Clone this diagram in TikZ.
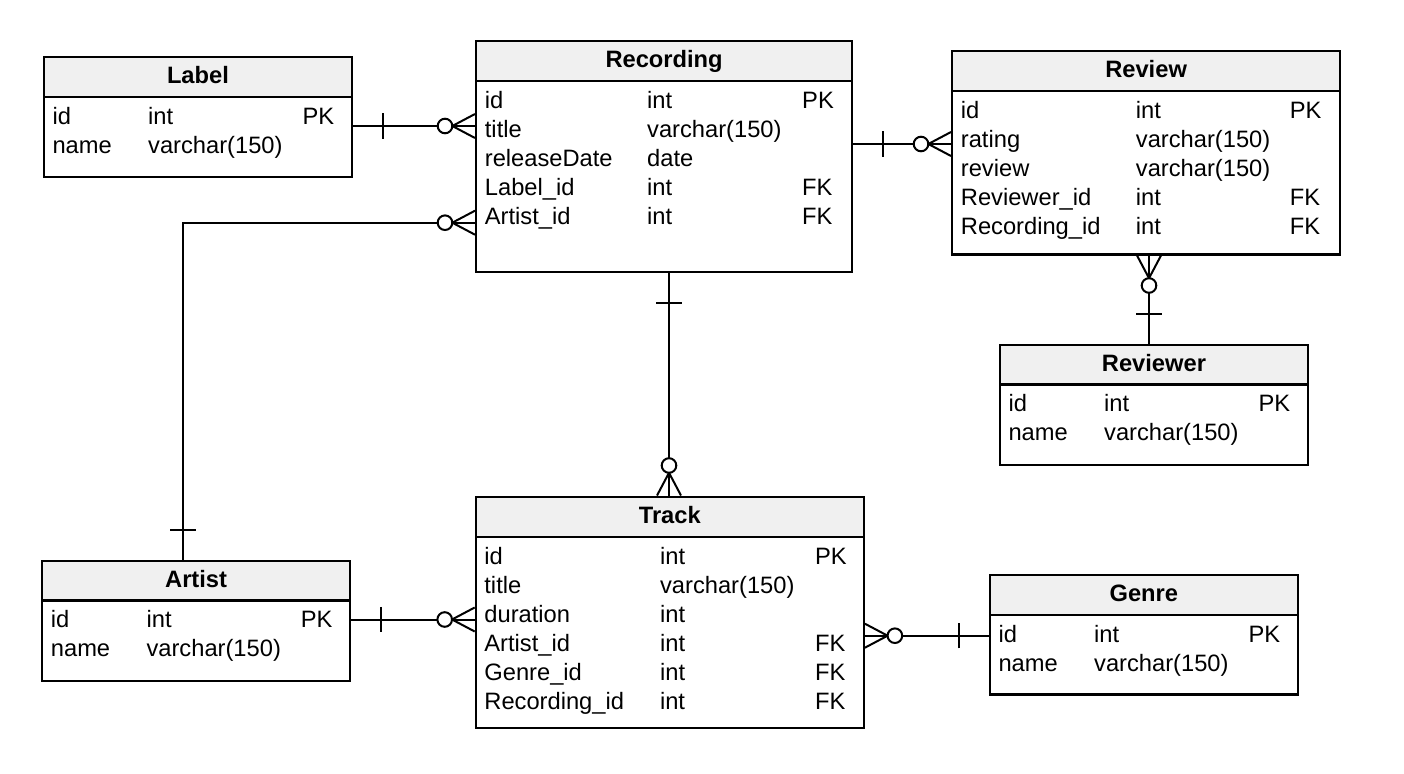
\documentclass[tikz,border=0pt]{standalone}
\usepackage{fontspec}
\setmainfont{Liberation Sans}
\usepackage{array}
\definecolor{hdrgray}{HTML}{F0F0F0}
\newcommand\erentity[7]{%
  \node[erbox, minimum width={#5-#3}, minimum height={#6-#4}] (#1) at (#3,#4) {};
  \node[erhdr, minimum width={#5-#3}, minimum height={#7-#4}] (#1-h) at (#3,#4) {#2};
}
\begin{document}
\begin{tikzpicture}[x=1pt,y=-1pt,
  every node/.style={font=\fontsize{23.7}{28.9}\selectfont},
  erbox/.style={draw, line width=2.2pt, inner sep=0pt, anchor=north west},
  erhdr/.style={draw, line width=2.2pt, fill=hdrgray, inner sep=0pt, anchor=north west,
                font=\fontsize{23.7}{28.9}\selectfont\bfseries, text height=17pt, text depth=4pt},
  errows/.style={inner sep=0pt, anchor=base west},
  conn/.style={line width=2pt},
  tickmark/.pic={\draw[conn] (30,-12.7) -- (30,12.7);},
  crowmark/.pic={\draw[conn] (0,-12) -- (22.7,0) -- (0,12);
                 \draw[conn, fill=white] (30,0) circle[radius=7.3];}
]
\useasboundingbox (0,0) rectangle (1404,773);

% entities
\erentity{label}{Label}{42.7}{55.7}{351}{175.7}{95.7}
\erentity{rec}{Recording}{475}{40}{851}{271}{80}
\erentity{rev}{Review}{951}{50}{1339}{253.3}{90}
\erentity{revr}{Reviewer}{998.7}{343.5}{1307}{463.7}{383.3}
\erentity{artist}{Artist}{41}{560}{349}{680}{599.3}
\erentity{track}{Track}{474.7}{495.5}{862.7}{727}{536}
\erentity{genre}{Genre}{988.7}{574}{1296.7}{693.3}{614}

% rows
\node[errows] (label-b) at (52.3,124.2) {\begin{tabular}[t]{@{}p{95.7pt}@{}p{154.3pt}@{}l@{}}
id & int & PK\\ name & varchar(150) & \end{tabular}};
\node[errows] (rec-b) at (484.7,108.5) {\begin{tabular}[t]{@{}p{162.3pt}@{}p{155pt}@{}l@{}}
id & int & PK\\ title & varchar(150) & \\ releaseDate & date & \\ Label\_id & int & FK\\ Artist\_id & int & FK\end{tabular}};
\node[errows] (rev-b) at (960.7,118.5) {\begin{tabular}[t]{@{}p{175pt}@{}p{154pt}@{}l@{}}
id & int & PK\\ rating & varchar(150) & \\ review & varchar(150) & \\ Reviewer\_id & int & FK\\ Recording\_id & int & FK\end{tabular}};
\node[errows] (revr-b) at (1008.3,411.8) {\begin{tabular}[t]{@{}p{95.7pt}@{}p{154.3pt}@{}l@{}}
id & int & PK\\ name & varchar(150) & \end{tabular}};
\node[errows] (artist-b) at (50.7,627.8) {\begin{tabular}[t]{@{}p{95.7pt}@{}p{154.3pt}@{}l@{}}
id & int & PK\\ name & varchar(150) & \end{tabular}};
\node[errows] (track-b) at (484.2,564.5) {\begin{tabular}[t]{@{}p{175.7pt}@{}p{155pt}@{}l@{}}
id & int & PK\\ title & varchar(150) & \\ duration & int & \\ Artist\_id & int & FK\\ Genre\_id & int & FK\\ Recording\_id & int & FK\end{tabular}};
\node[errows] (genre-b) at (998.3,642.5) {\begin{tabular}[t]{@{}p{95.7pt}@{}p{154.3pt}@{}l@{}}
id & int & PK\\ name & varchar(150) & \end{tabular}};

% helper coordinates
\coordinate (yLR) at (0,126);
\coordinate (yRR) at (0,144);
\coordinate (yRA) at (0,222.7);
\coordinate (yAT) at (0,619.5);
\coordinate (yTG) at (0,635.7);
\coordinate (xRA) at (183,0);
\coordinate (xRT) at (669,0);
\coordinate (xRV) at (1149,0);

% connectors
\draw[conn] (label.east |- yLR) -- (rec.west |- yLR);
\draw[conn] (rec.east |- yRR) -- (rev.west |- yRR);
\draw[conn] (rec.west |- yRA) -| (artist.north -| xRA);
\draw[conn] (rec.south -| xRT) -- (track.north -| xRT);
\draw[conn] (rev.south -| xRV) -- (revr.north -| xRV);
\draw[conn] (artist.east |- yAT) -- (track.west |- yAT);
\draw[conn] (track.east |- yTG) -- (genre.west |- yTG);

% end marks
\pic at (label.east |- yLR) {tickmark};
\pic[rotate=180] at (rec.west |- yLR) {crowmark};
\pic at (rec.east |- yRR) {tickmark};
\pic[rotate=180] at (rev.west |- yRR) {crowmark};
\pic[rotate=180] at (rec.west |- yRA) {crowmark};
\pic[rotate=90] at (artist.north -| xRA) {tickmark};
\pic[rotate=-90] at (rec.south -| xRT) {tickmark};
\pic[rotate=90] at (track.north -| xRT) {crowmark};
\pic[rotate=-90] at (rev.south -| xRV) {crowmark};
\pic[rotate=90] at (revr.north -| xRV) {tickmark};
\pic at (artist.east |- yAT) {tickmark};
\pic[rotate=180] at (track.west |- yAT) {crowmark};
\pic at (track.east |- yTG) {crowmark};
\pic[rotate=180] at (genre.west |- yTG) {tickmark};
\end{tikzpicture}
\end{document}
